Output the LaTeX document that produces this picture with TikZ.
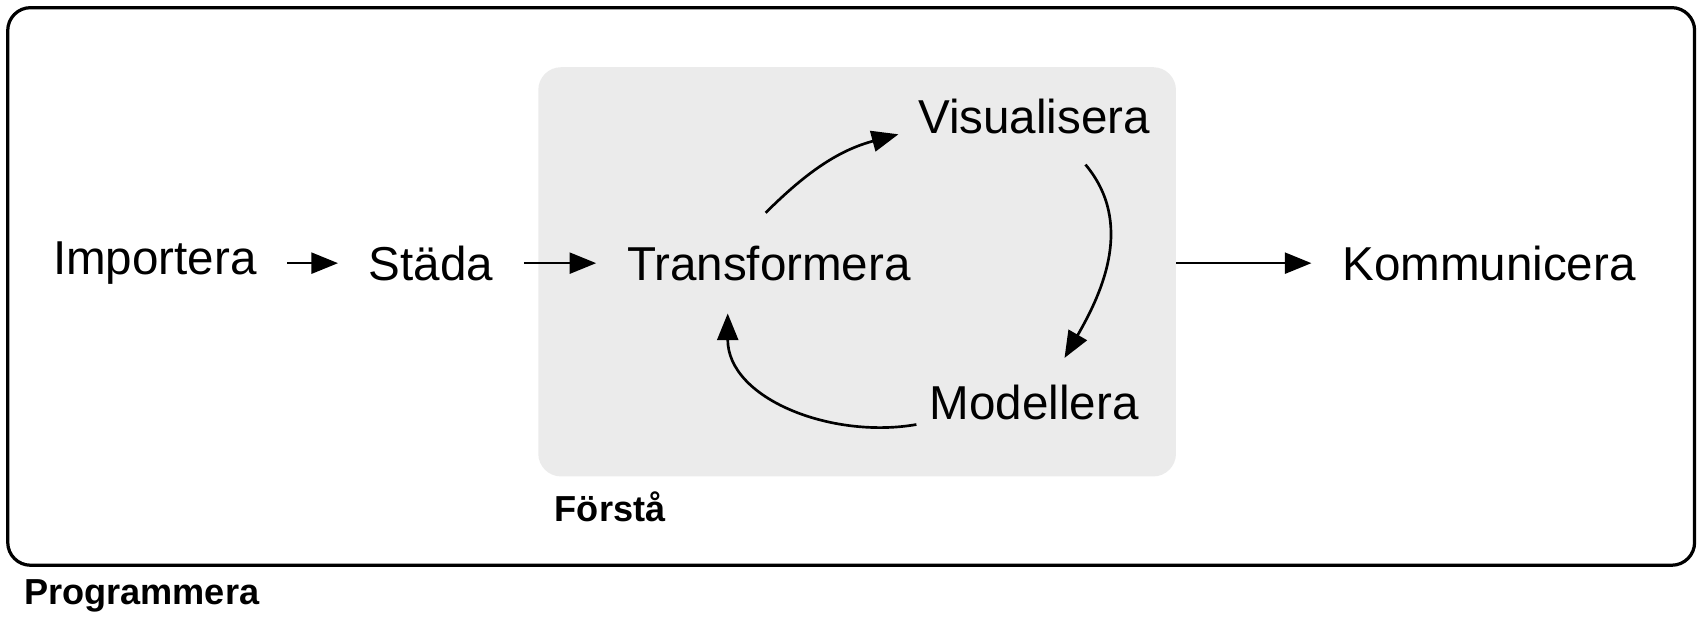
\documentclass[tikz,border=0pt]{standalone}
\usepackage{fontspec}
\setmainfont{Liberation Sans}
\usetikzlibrary{arrows.meta,calc}
\tikzset{
  stage/.style={inner sep=0pt, font=\fontsize{25}{30}\selectfont},
  tag/.style={inner sep=0pt, anchor=west, font=\bfseries\fontsize{19}{23}\selectfont},
  arr/.style={-{Triangle[length=14pt,width=11pt]}, line width=1.4pt}
}
\begin{document}
\begin{tikzpicture}[x=0.02cm,y=-0.02cm]
  \useasboundingbox (0,0) rectangle (1568,576);

  \node (outer) [draw, line width=1.7pt, rounded corners=12pt, minimum width=31.16cm, minimum height=10.3cm] at (786,264.5) {};
  \node (box) [fill=black!8, rounded corners=12pt, minimum width=11.78cm, minimum height=7.56cm] at (791.5,251) {};

  \node (programmera) [tag] at (22,550) {Programmera};
  \node (forsta) [tag] at (512,468) {Förstå};

  \node (imp) [stage] at (143,243) {Importera};
  \node (stada) [stage] at (398,243) {Städa};
  \node (trans) [stage] at (710,243) {Transformera};
  \node (vis) [stage] at (955,108) {Visualisera};
  \node (mod) [stage] at (955,372) {Modellera};
  \node (komm) [stage] at (1375,243) {Kommunicera};

  \draw[arr, shorten <=16pt, shorten >=16pt] (imp) -- (stada);
  \draw[arr, shorten <=16pt, shorten >=16pt] (stada) -- (trans);
  \draw[arr] ($(trans.north)+(-3,-30)$) to[out=45,in=195] ($(vis.west)+(-18,16)$);
  \draw[arr] ($(vis.east)+(-60,44)$) to[out=-50,in=60] ($(mod.north)+(28,-25)$);
  \draw[arr] ($(mod.west)+(-12,20)$) to[out=190,in=-90] ($(trans.south)+(-38,30)$);
  \draw[arr, shorten >=16pt] (box.east |- komm) -- (komm);
\end{tikzpicture}
\end{document}
